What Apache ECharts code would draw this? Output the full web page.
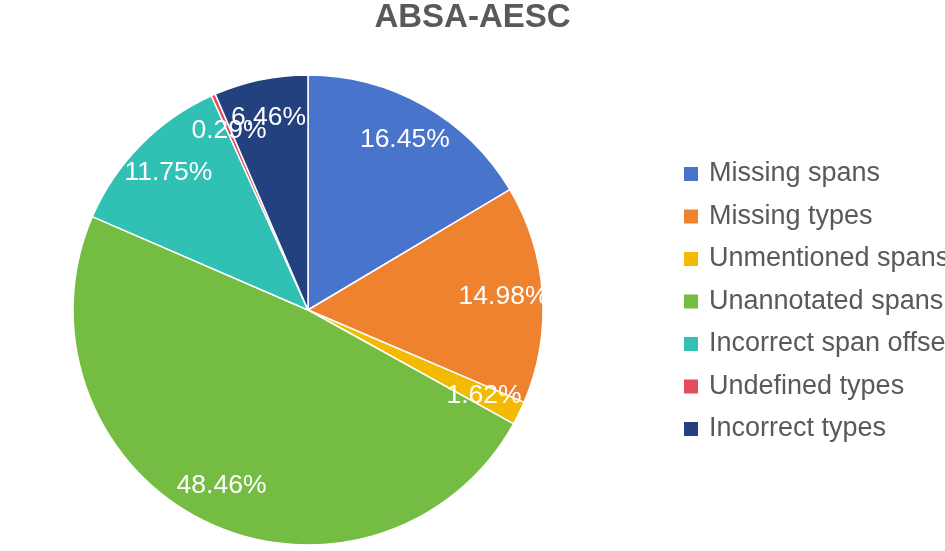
<!DOCTYPE html>
<html>
<head>
<meta charset="utf-8">
<script src="https://cdn.jsdelivr.net/npm/echarts@6/dist/echarts.min.js"></script>
<style>html,body{margin:0;padding:0;background:#fff;}#c{width:945px;height:551px;}</style>
</head>
<body>
<div id="c"></div>
<script>
const categories = ['Missing spans','Missing types','Unmentioned spans','Unannotated spans','Incorrect span offsets','Undefined types','Incorrect types'];
const values = [16.45, 14.98, 1.62, 48.46, 11.75, 0.29, 6.46];
const colors = ['#4874CB','#EE822F','#F2BA02','#75BD42','#30C0B4','#E54C5E','#23407F'];

const chart = echarts.init(document.getElementById('c'), null, {renderer:'canvas'});
const data = categories.map((n,i)=>({name:n, value:values[i], itemStyle:{color:colors[i]}}));
const font = '"Liberation Sans", Arial, Helvetica, sans-serif';
chart.setOption({
  animation:false,
  title:{text:'ABSA-AESC', left:'center', top:0, padding:0, textStyle:{fontFamily:font, fontSize:33, lineHeight:36, fontWeight:'bold', color:'#595959'}},
  legend:{
    orient:'vertical', left:682, top:160.5, padding:0, itemWidth:16, itemHeight:16, itemGap:15.5,
    icon:'rect', data:categories,
    textStyle:{fontFamily:font, fontSize:27, lineHeight:27, color:'#595959', padding:[0,0,0,5]}
  },
  series:[
    {
      type:'pie', center:[308,310], radius:[0,235], startAngle:90, clockwise:true,
      data:data, label:{show:false}, labelLine:{show:false},
      itemStyle:{borderColor:'#fff', borderWidth:1.5}, emphasis:{disabled:true}, silent:true
    },
    {
      type:'pie', center:[308,310], radius:[151,235], startAngle:90, clockwise:true,
      minShowLabelAngle:0, avoidLabelOverlap:false,
      labelLayout:{hideOverlap:false},
      data:categories.map((n,i)=>({name:n, value:values[i]})),
      itemStyle:{color:'rgba(0,0,0,0)'}, silent:true, emphasis:{disabled:true},
      label:{show:true, position:'inside', formatter:p=>p.value.toFixed(2)+'%', color:'#fff', fontFamily:font, fontSize:26.5},
      labelLine:{show:false}
    }
  ]
});
</script>
</body>
</html>
